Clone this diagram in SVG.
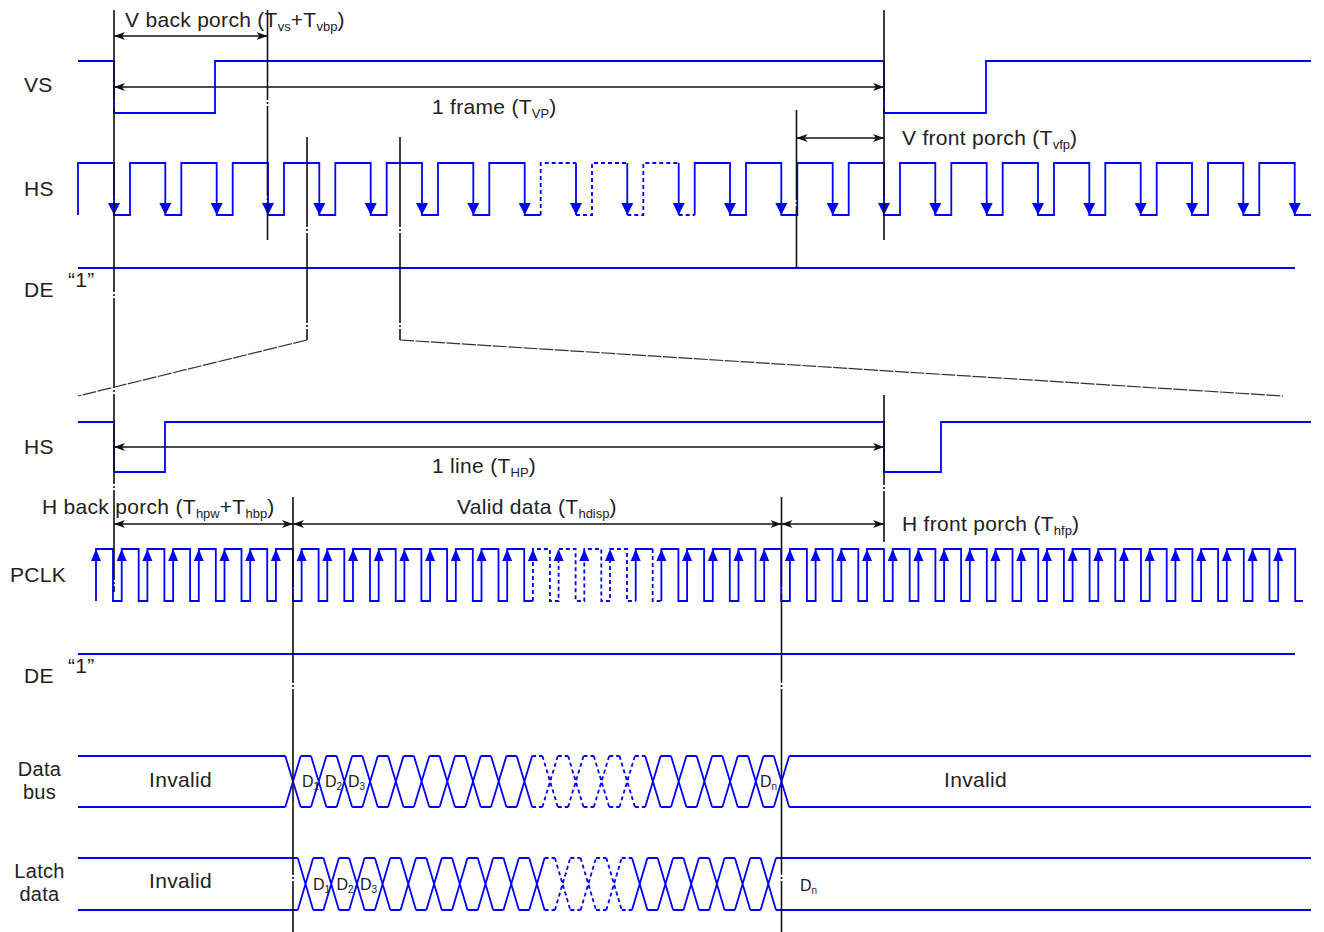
<svg xmlns="http://www.w3.org/2000/svg" width="1324" height="932" viewBox="0 0 1324 932">
<style>
.sig{fill:none;stroke:#0000ff;stroke-width:1.8}
.dsh{stroke-dasharray:4 3}
.blk{fill:none;stroke:#111;stroke-width:1.6;stroke-dasharray:90 2 2 2}
.dim{fill:none;stroke:#111;stroke-width:1.4;marker-start:url(#ah);marker-end:url(#ah)}
.zl{fill:none;stroke:#333;stroke-width:1.2;stroke-dasharray:14 1.5}
.ar{fill:#0000ff}
text{font-family:"Liberation Sans",Arial,sans-serif;fill:#222}
.lb{font-size:21px;letter-spacing:0.3px}
.two{font-size:20px}
.sb{font-size:13px;letter-spacing:0}
.dl{font-size:16px}
.ds{font-size:10px}
</style>
<defs>
<marker id="ah" markerUnits="userSpaceOnUse" markerWidth="12" markerHeight="10" refX="11" refY="5" orient="auto-start-reverse"><path d="M0,1 L11,5 L0,9 L3,5 Z" fill="#111"/></marker>
<path id="adn" class="ar" d="M-6,-12 L6,-12 L0,0 Z"/>
<path id="aup" class="ar" d="M-5,12 L5,12 L0,0 Z"/>
<path id="x51" d="M-7.7,0 L7.7,51 M-7.7,51 L7.7,0"/>
<path id="f51" d="M7.7,0 H18 M7.7,51 H18"/>
<path id="x52" d="M-7.7,0 L7.7,52 M-7.7,52 L7.7,0"/>
<path id="f52" d="M7.7,0 H18 M7.7,52 H18"/>
</defs>
<rect width="1324" height="932" fill="#fff"/>

<g id="signal-labels" class="lb">
<text x="24" y="92">VS</text>
<text x="24" y="196">HS</text>
<text x="24" y="297">DE</text>
<text x="68" y="287">“1”</text>
<text x="24" y="454">HS</text>
<text x="10" y="582">PCLK</text>
<text x="24" y="683">DE</text>
<text x="68" y="673">“1”</text>
<text class="two" text-anchor="middle"><tspan x="39.5" y="776">Data</tspan><tspan x="39.5" y="799">bus</tspan></text>
<text class="two" text-anchor="middle"><tspan x="39.5" y="878">Latch</tspan><tspan x="39.5" y="901">data</tspan></text>
</g>

<g id="vs">
<path class="sig" d="M78,61 H114 V113 H215 V61 H884 V113 H986 V61 H1311"/>
</g>

<g id="hs-frame">
<path class="sig" d="M78,215 V163 H114 V215 H130 V163 H165.3 V215 H181.3 V163 H216.7 V215 H232.7 V163 H268 V215 H284 V163 H319.3 V215 H335.3 V163 H370.7 V215 H386.7 V163 H422 V215 H438 V163 H473.3 V215 H489.3 V163 H524.7 V215 H540.7"/>
<path class="sig dsh" d="M540.7,215 V163 H576 M576,215 H592 V163 H627.3 M627.3,215 H643.3 V163 H678.7 M678.7,215 H694.7"/>
<path class="sig" d="M576,163 V215 M627.3,163 V215 M678.7,163 V215"/>
<path class="sig" d="M694.7,215 V163 H730 V215 H746 V163 H781.3 V215 H797.3 V163 H832.7 V215 H848.7 V163 H884 V215 H900 V163 H935.3 V215 H951.3 V163 H986.7 V215 H1002.7 V163 H1038 V215 H1054 V163 H1089.3 V215 H1105.3 V163 H1140.7 V215 H1156.7 V163 H1192 V215 H1208 V163 H1243.3 V215 H1259.3 V163 H1294.7 V215 H1311"/>
<use href="#adn" x="114" y="215"/><use href="#adn" x="165.3" y="215"/><use href="#adn" x="216.7" y="215"/><use href="#adn" x="268" y="215"/>
<use href="#adn" x="319.3" y="215"/><use href="#adn" x="370.7" y="215"/><use href="#adn" x="422" y="215"/><use href="#adn" x="473.3" y="215"/>
<use href="#adn" x="524.7" y="215"/><use href="#adn" x="576" y="215"/><use href="#adn" x="627.3" y="215"/><use href="#adn" x="678.7" y="215"/>
<use href="#adn" x="730" y="215"/><use href="#adn" x="781.3" y="215"/><use href="#adn" x="832.7" y="215"/><use href="#adn" x="884" y="215"/>
<use href="#adn" x="935.3" y="215"/><use href="#adn" x="986.7" y="215"/><use href="#adn" x="1038" y="215"/><use href="#adn" x="1089.3" y="215"/>
<use href="#adn" x="1140.7" y="215"/><use href="#adn" x="1192" y="215"/><use href="#adn" x="1243.3" y="215"/><use href="#adn" x="1294.7" y="215"/>
</g>

<g id="de-frame">
<path class="sig" d="M78,268 H1295"/>
</g>

<g id="hs-line">
<path class="sig" d="M78,422 H114 V472 H165 V422 H884 V472 H941 V422 H1311"/>
</g>

<g id="pclk">
<path class="sig" d="M96,601 V549 H113 V601 H121.7 V549 H138.7 V601 H147.4 V549 H164.4 V601 H173.1 V549 H190.1 V601 H198.8 V549 H215.8 V601 H224.5 V549 H241.5 V601 H250.2 V549 H267.2 V601 H275.9 V549 H292.9 V601 H301.6 V549 H318.6 V601 H327.3 V549 H344.3 V601 H353 V549 H370 V601 H378.7 V549 H395.7 V601 H404.4 V549 H421.4 V601 H430.1 V549 H447.1 V601 H455.8 V549 H472.8 V601 H481.5 V549 H498.5 V601 H507.2 V549 H524.2 V601 H532.9"/>
<path class="sig dsh" d="M532.9,601 V549 H549.9 V601 H558.6 V549 H575.6 V601 H584.3 V549 H601.3 V601 H610 V549 H627 V601 H635.7 M652.7,549 V601 H661.4"/>
<path class="sig" d="M635.7,601 V549 H652.7"/>
<path class="sig" d="M661.4,601 V549 H678.4 V601 H687.1 V549 H704.1 V601 H712.8 V549 H729.8 V601 H738.5 V549 H755.5 V601 H764.2 V549 H781.2 V601 H789.9 V549 H806.9 V601 H815.6 V549 H832.6 V601 H841.3 V549 H858.3 V601 H867 V549 H884 V601 H892.7 V549 H909.7 V601 H918.4 V549 H935.4 V601 H944.1 V549 H961.1 V601 H969.8 V549 H986.8 V601 H995.5 V549 H1012.5 V601 H1021.2 V549 H1038.2 V601 H1046.9 V549 H1063.9 V601 H1072.6 V549 H1089.6 V601 H1098.3 V549 H1115.3 V601 H1124 V549 H1141 V601 H1149.7 V549 H1166.7 V601 H1175.4 V549 H1192.4 V601 H1201.1 V549 H1218.1 V601 H1226.8 V549 H1243.8 V601 H1252.5 V549 H1269.5 V601 H1278.2 V549 H1295.2 V601 H1303"/>
<use href="#aup" x="96" y="549"/><use href="#aup" x="121.7" y="549"/><use href="#aup" x="147.4" y="549"/><use href="#aup" x="173.1" y="549"/>
<use href="#aup" x="198.8" y="549"/><use href="#aup" x="224.5" y="549"/><use href="#aup" x="250.2" y="549"/><use href="#aup" x="275.9" y="549"/>
<use href="#aup" x="301.6" y="549"/><use href="#aup" x="327.3" y="549"/><use href="#aup" x="353" y="549"/><use href="#aup" x="378.7" y="549"/>
<use href="#aup" x="404.4" y="549"/><use href="#aup" x="430.1" y="549"/><use href="#aup" x="455.8" y="549"/><use href="#aup" x="481.5" y="549"/>
<use href="#aup" x="507.2" y="549"/><use href="#aup" x="532.9" y="549"/><use href="#aup" x="558.6" y="549"/><use href="#aup" x="584.3" y="549"/>
<use href="#aup" x="610" y="549"/><use href="#aup" x="635.7" y="549"/><use href="#aup" x="661.4" y="549"/><use href="#aup" x="687.1" y="549"/>
<use href="#aup" x="712.8" y="549"/><use href="#aup" x="738.5" y="549"/><use href="#aup" x="764.2" y="549"/><use href="#aup" x="789.9" y="549"/>
<use href="#aup" x="815.6" y="549"/><use href="#aup" x="841.3" y="549"/><use href="#aup" x="867" y="549"/><use href="#aup" x="892.7" y="549"/>
<use href="#aup" x="918.4" y="549"/><use href="#aup" x="944.1" y="549"/><use href="#aup" x="969.8" y="549"/><use href="#aup" x="995.5" y="549"/>
<use href="#aup" x="1021.2" y="549"/><use href="#aup" x="1046.9" y="549"/><use href="#aup" x="1072.6" y="549"/><use href="#aup" x="1098.3" y="549"/>
<use href="#aup" x="1124" y="549"/><use href="#aup" x="1149.7" y="549"/><use href="#aup" x="1175.4" y="549"/><use href="#aup" x="1201.1" y="549"/>
<use href="#aup" x="1226.8" y="549"/><use href="#aup" x="1252.5" y="549"/><use href="#aup" x="1278.2" y="549"/>
</g>

<g id="de-line">
<path class="sig" d="M78,654 H1295"/>
</g>

<g id="databus">
<path class="sig" d="M78,756 H285.3 M78,807 H285.3 M789.2,756 H1311 M789.2,807 H1311"/>
<g class="sig">
<use href="#x51" x="293" y="756"/><use href="#x51" x="318.7" y="756"/><use href="#x51" x="344.4" y="756"/><use href="#x51" x="370.1" y="756"/>
<use href="#x51" x="395.8" y="756"/><use href="#x51" x="421.6" y="756"/><use href="#x51" x="447.3" y="756"/><use href="#x51" x="473" y="756"/>
<use href="#x51" x="498.7" y="756"/><use href="#x51" x="524.4" y="756"/>
<use href="#x51" x="652.9" y="756"/><use href="#x51" x="678.7" y="756"/><use href="#x51" x="704.4" y="756"/><use href="#x51" x="730.1" y="756"/>
<use href="#x51" x="755.8" y="756"/><use href="#x51" x="781.5" y="756"/>
<use href="#f51" x="293" y="756"/><use href="#f51" x="318.7" y="756"/><use href="#f51" x="344.4" y="756"/><use href="#f51" x="370.1" y="756"/>
<use href="#f51" x="395.8" y="756"/><use href="#f51" x="421.6" y="756"/><use href="#f51" x="447.3" y="756"/><use href="#f51" x="473" y="756"/>
<use href="#f51" x="498.7" y="756"/>
<use href="#f51" x="652.9" y="756"/><use href="#f51" x="678.7" y="756"/><use href="#f51" x="704.4" y="756"/><use href="#f51" x="730.1" y="756"/>
<use href="#f51" x="755.8" y="756"/>
</g>
<g class="sig dsh">
<use href="#x51" x="550.1" y="756"/><use href="#x51" x="575.8" y="756"/><use href="#x51" x="601.5" y="756"/><use href="#x51" x="627.2" y="756"/>
<use href="#f51" x="524.4" y="756"/><use href="#f51" x="550.1" y="756"/><use href="#f51" x="575.8" y="756"/><use href="#f51" x="601.5" y="756"/><use href="#f51" x="627.2" y="756"/>
</g>
</g>

<g id="latch">
<path class="sig" d="M78,858 H297.8 M78,910 H297.8 M776,858 H1311 M776,910 H1311"/>
<g class="sig">
<use href="#x52" x="305.5" y="858"/><use href="#x52" x="331.2" y="858"/><use href="#x52" x="356.9" y="858"/><use href="#x52" x="382.6" y="858"/>
<use href="#x52" x="408.3" y="858"/><use href="#x52" x="434.1" y="858"/><use href="#x52" x="459.8" y="858"/><use href="#x52" x="485.5" y="858"/>
<use href="#x52" x="511.2" y="858"/><use href="#x52" x="536.9" y="858"/>
<use href="#x52" x="639.7" y="858"/><use href="#x52" x="665.4" y="858"/><use href="#x52" x="691.2" y="858"/><use href="#x52" x="716.9" y="858"/>
<use href="#x52" x="742.6" y="858"/><use href="#x52" x="768.3" y="858"/>
<use href="#f52" x="305.5" y="858"/><use href="#f52" x="331.2" y="858"/><use href="#f52" x="356.9" y="858"/><use href="#f52" x="382.6" y="858"/>
<use href="#f52" x="408.3" y="858"/><use href="#f52" x="434.1" y="858"/><use href="#f52" x="459.8" y="858"/><use href="#f52" x="485.5" y="858"/>
<use href="#f52" x="511.2" y="858"/>
<use href="#f52" x="639.7" y="858"/><use href="#f52" x="665.4" y="858"/><use href="#f52" x="691.2" y="858"/><use href="#f52" x="716.9" y="858"/>
<use href="#f52" x="742.6" y="858"/>
</g>
<g class="sig dsh">
<use href="#x52" x="562.6" y="858"/><use href="#x52" x="588.3" y="858"/><use href="#x52" x="614" y="858"/>
<use href="#f52" x="536.9" y="858"/><use href="#f52" x="562.6" y="858"/><use href="#f52" x="588.3" y="858"/><use href="#f52" x="614" y="858"/>
</g>
</g>

<g id="connectors">
<path class="blk" d="M114,10 V592 M267.5,10 V240 M884,10 V240 M307,137 V340 M400,137 V340 M796.5,110 V268 M884,395 V542 M293,497 V932 M781.5,497 V932"/>
<path class="zl" d="M307,340 L78,396 M400,340 L1283,396"/>
<path class="dim" d="M114,36 H267.5"/>
<path class="dim" d="M114,87 H884"/>
<path class="dim" d="M796.5,138 H884"/>
<path class="dim" d="M114,447 H884"/>
<path class="dim" d="M114,524 H293"/>
<path class="dim" d="M293,524 H781.5"/>
<path class="dim" d="M781.5,524 H884"/>
</g>

<g id="timing-labels" class="lb">
<text x="125" y="27">V back porch (T<tspan class="sb" dy="4">vs</tspan><tspan dy="-4">+T</tspan><tspan class="sb" dy="4">vbp</tspan><tspan dy="-4">)</tspan></text>
<text x="432" y="114">1 frame (T<tspan class="sb" dy="4">VP</tspan><tspan dy="-4">)</tspan></text>
<text x="902" y="145">V front porch (T<tspan class="sb" dy="4">vfp</tspan><tspan dy="-4">)</tspan></text>
<text x="432" y="473">1 line (T<tspan class="sb" dy="4">HP</tspan><tspan dy="-4">)</tspan></text>
<text x="42" y="514">H back porch (T<tspan class="sb" dy="4">hpw</tspan><tspan dy="-4">+T</tspan><tspan class="sb" dy="4">hbp</tspan><tspan dy="-4">)</tspan></text>
<text x="457" y="514">Valid data (T<tspan class="sb" dy="4">hdisp</tspan><tspan dy="-4">)</tspan></text>
<text x="902" y="531">H front porch (T<tspan class="sb" dy="4">hfp</tspan><tspan dy="-4">)</tspan></text>
<text x="180.5" y="787" text-anchor="middle">Invalid</text>
<text x="975.5" y="787" text-anchor="middle">Invalid</text>
<text x="180.5" y="888" text-anchor="middle">Invalid</text>
</g>

<g id="data-labels" class="dl">
<text x="302" y="787">D<tspan class="ds" dy="3">1</tspan></text>
<text x="325" y="787">D<tspan class="ds" dy="3">2</tspan></text>
<text x="348" y="787">D<tspan class="ds" dy="3">3</tspan></text>
<text x="760" y="787">D<tspan class="ds" dy="3">n</tspan></text>
<text x="313" y="890">D<tspan class="ds" dy="3">1</tspan></text>
<text x="336.5" y="890">D<tspan class="ds" dy="3">2</tspan></text>
<text x="360" y="890">D<tspan class="ds" dy="3">3</tspan></text>
<text x="800" y="891">D<tspan class="ds" dy="3">n</tspan></text>
</g>
</svg>
